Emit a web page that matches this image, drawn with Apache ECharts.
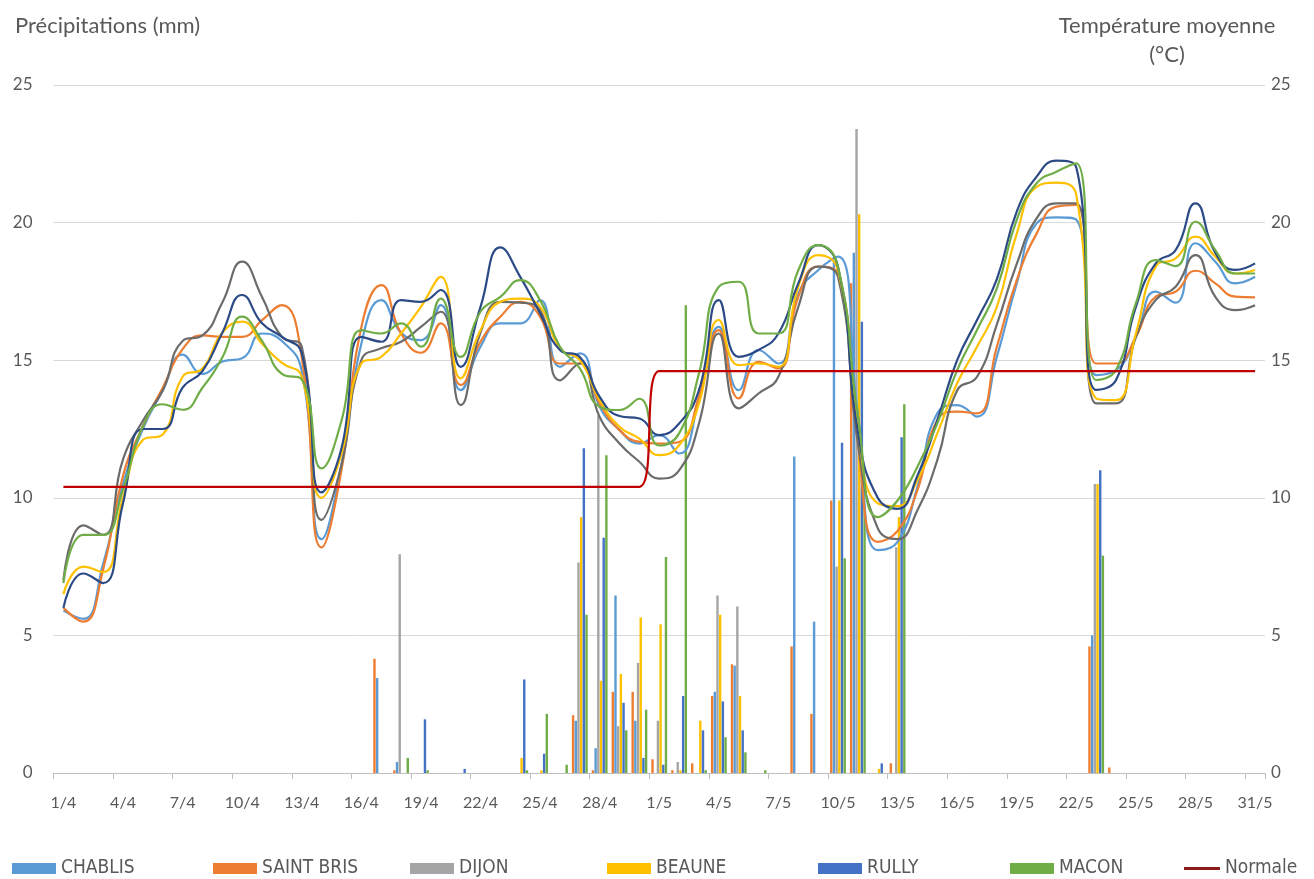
<!DOCTYPE html>
<html>
<head>
<meta charset="utf-8">
<script src="https://cdn.jsdelivr.net/npm/echarts/dist/echarts.min.js"></script>
<style>
html,body{margin:0;padding:0;background:#fff;}
#chart{width:1314px;height:879px;}
</style>
</head>
<body>
<div id="chart"></div>
<script>
const categories = ['1/4','2/4','3/4','4/4','5/4','6/4','7/4','8/4','9/4','10/4',
'11/4','12/4','13/4','14/4','15/4','16/4','17/4','18/4','19/4','20/4',
'21/4','22/4','23/4','24/4','25/4','26/4','27/4','28/4','29/4','30/4',
'1/5','2/5','3/5','4/5','5/5','6/5','7/5','8/5','9/5','10/5',
'11/5','12/5','13/5','14/5','15/5','16/5','17/5','18/5','19/5','20/5',
'21/5','22/5','23/5','24/5','25/5','26/5','27/5','28/5','29/5','30/5','31/5'];

const stations = ['CHABLIS','SAINT BRIS','DIJON','BEAUNE','RULLY','MACON'];

// Précipitations (mm)
const precipChablis = [0,0,0,0,0,0,0,0,0,0,
 0,0,0,0,0,0,3.45,0.4,0,0,
 0,0,0,0,0,0,1.9,0.9,6.45,1.9,
 0,0,0,2.95,3.9,0,0,11.5,5.5,18.6,
 18.9,0,0,0,0,0,0,0,0,0,
 0,0,5.0,0,0,0,0,0,0,0,
 0];
const precipSaintBris = [0,0,0,0,0,0,0,0,0,0,
 0,0,0,0,0,0,4.15,0.1,0,0,
 0,0,0,0,0,0,2.1,0.1,2.95,2.95,
 0.5,0.1,0.35,2.8,3.95,0,0,4.6,2.15,9.9,
 17.8,0,0.35,0,0,0,0,0,0,0,
 0,0,4.6,0.2,0,0,0,0,0,0,
 0];
const precipDijon = [0,0,0,0,0,0,0,0,0,0,
 0,0,0,0,0,0,0,7.95,0,0,
 0,0,0,0,0,0,7.65,13.0,1.7,4.0,
 1.9,0.4,0,6.45,6.05,0,0,0,0,7.5,
 23.4,0,8.2,0,0,0,0,0,0,0,
 0,0,10.5,0,0,0,0,0,0,0,
 0];
const precipBeaune = [0,0,0,0,0,0,0,0,0,0,
 0,0,0,0,0,0,0,0,0,0,
 0,0,0,0.55,0.1,0,9.3,3.35,3.6,5.65,
 5.4,0.1,1.9,5.75,2.8,0,0,0,0,9.9,
 20.3,0.15,9.3,0,0,0,0,0,0,0,
 0,0,10.5,0,0,0,0,0,0,0,
 0];
const precipRully = [0,0,0,0,0,0,0,0,0,0,
 0,0,0,0,0,0,0,0,1.95,0,
 0.15,0,0,3.4,0.7,0,11.8,8.55,2.55,0.55,
 0.3,2.8,1.55,2.6,1.55,0,0,0,0,12.0,
 16.4,0.35,12.2,0,0,0,0,0,0,0,
 0,0,11.0,0,0,0,0,0,0,0,
 0];
const precipMacon = [0,0,0,0,0,0,0,0,0,0,
 0,0,0,0,0,0,0,0.55,0.1,0,
 0,0,0,0.1,2.15,0.3,5.75,11.55,1.55,2.3,
 7.85,17.0,0.1,1.3,0.75,0.1,0,0,0,7.8,
 9.7,0,13.4,0,0,0,0,0,0,0,
 0,0,7.9,0,0,0,0,0,0,0,
 0];

// Température moyenne (°C)
const tempChablis = [5.9,5.6,7.6,10.5,12.5,13.9,15.2,14.5,14.95,15.07,
 15.97,15.7,14.6,8.5,11.2,15.6,17.18,16.0,15.73,17.0,
 13.91,15.49,16.34,16.34,17.18,14.76,15.25,13.31,12.46,11.97,
 12.28,11.61,13.55,16.21,13.91,15.37,14.88,17.42,18.27,18.76,
 13.0,8.1,8.4,10.4,13.07,13.37,12.95,15.13,17.79,19.97,
 20.19,20.1,14.46,14.64,15.85,17.49,17.09,19.25,18.58,17.79,18.03];
const tempSaintBris = [6.0,5.5,7.4,10.8,12.6,14.0,15.4,15.9,15.85,15.85,
 16.46,17.0,15.1,8.2,11.0,16.2,17.73,15.97,15.27,16.34,
 14.1,15.67,16.58,17.12,16.58,14.88,14.88,13.43,12.46,12.03,
 11.97,12.03,13.67,16.09,13.61,14.94,14.7,17.3,18.4,18.15,
 12.0,8.4,8.8,10.28,12.82,13.13,13.07,15.49,17.91,19.6,
 20.58,20.64,14.88,14.88,15.85,17.31,17.49,18.25,17.79,17.31,17.28];
const tempDijon = [7.0,9.0,8.65,11.4,12.8,13.9,15.7,15.9,17.1,18.58,
 17.3,15.85,15.5,9.2,11.2,15.0,15.43,15.67,16.21,16.76,
 13.37,16.0,17.12,17.09,16.82,14.27,14.88,12.94,11.97,11.31,
 10.7,11.0,12.7,15.97,13.25,13.79,14.4,16.94,18.4,18.03,
 12.0,8.9,8.5,9.55,11.37,13.9,14.4,16.3,18.5,20.15,
 20.7,20.7,13.43,13.43,15.85,17.19,17.67,18.82,17.3,16.82,17.0];
const tempBeaune = [6.5,7.5,7.3,10.0,12.1,12.3,14.4,14.7,16.0,16.4,
 15.6,14.9,14.4,10.0,11.6,14.88,15.12,15.97,16.94,18.03,
 14.34,16.09,17.12,17.24,16.94,15.43,15.0,13.55,12.58,12.15,
 11.55,11.91,13.43,16.46,14.82,14.88,14.76,17.67,18.82,18.27,
 12.5,9.8,9.7,10.64,12.34,14.16,15.49,16.94,19.6,21.3,
 21.45,21.0,13.61,13.55,15.97,18.4,18.7,19.49,18.76,18.15,18.28];
const tempRully = [6.0,7.25,6.9,9.8,12.5,12.5,14.0,14.6,16.0,17.37,
 16.34,15.85,15.25,10.2,11.8,15.85,15.67,17.18,17.12,17.55,
 14.76,16.94,19.1,18.03,16.7,15.37,15.12,13.67,12.97,12.88,
 12.28,12.7,13.91,17.18,15.12,15.37,15.97,17.79,19.18,18.4,
 12.4,10.0,9.6,10.8,12.82,15.0,16.46,17.95,20.4,21.67,
 22.25,22.0,13.92,14.28,16.94,18.52,19.0,20.7,18.9,18.28,18.52];
const tempMacon = [6.9,8.65,8.65,10.3,12.6,13.4,13.2,14.0,15.1,16.58,
 15.7,14.5,14.3,11.07,12.8,16.09,15.97,16.34,15.49,17.24,
 15.12,16.76,17.3,17.91,17.18,15.49,14.7,13.31,13.19,13.6,
 11.9,12.34,14.52,17.67,17.85,15.97,15.97,18.27,19.18,18.4,
 13.0,9.3,9.9,11.13,12.7,14.64,16.1,17.61,20.1,21.43,
 21.85,22.15,14.28,14.64,17.07,18.64,18.42,20.03,19.0,18.15,18.15];
const tempNormale = [10.4,10.4,10.4,10.4,10.4,10.4,10.4,10.4,10.4,10.4,
 10.4,10.4,10.4,10.4,10.4,10.4,10.4,10.4,10.4,10.4,
 10.4,10.4,10.4,10.4,10.4,10.4,10.4,10.4,10.4,10.4,
 14.6,14.6,14.6,14.6,14.6,14.6,14.6,14.6,14.6,14.6,
 14.6,14.6,14.6,14.6,14.6,14.6,14.6,14.6,14.6,14.6,
 14.6,14.6,14.6,14.6,14.6,14.6,14.6,14.6,14.6,14.6,14.6];

const yTicks = [0,5,10,15,20,25];

const barColors = {'CHABLIS':'#5B9BD5','SAINT BRIS':'#ED7D31','DIJON':'#A5A5A5','BEAUNE':'#FFC000','RULLY':'#4472C4','MACON':'#70AD47'};
const lineColors = {'CHABLIS':'#5B9BD5','SAINT BRIS':'#ED7D31','DIJON':'#6B6B6B','BEAUNE':'#FFC000','RULLY':'#2B4A86','MACON':'#70AD47'};
const precip = {'CHABLIS':precipChablis,'SAINT BRIS':precipSaintBris,'DIJON':precipDijon,'BEAUNE':precipBeaune,'RULLY':precipRully,'MACON':precipMacon};
const temp = {'CHABLIS':tempChablis,'SAINT BRIS':tempSaintBris,'DIJON':tempDijon,'BEAUNE':tempBeaune,'RULLY':tempRully,'MACON':tempMacon};

// bar drawing order as seen in the picture
const barOrder = ['SAINT BRIS','CHABLIS','DIJON','BEAUNE','RULLY','MACON'];

const txt = '#595959';
const font = 'Lato';

const series = [];
barOrder.forEach(n => {
  series.push({name:n, type:'bar', yAxisIndex:0, data:precip[n], barWidth:2.4, barGap:'12%',
    itemStyle:{color:barColors[n]}, animation:false});
});
stations.forEach(n => {
  series.push({name:n, type:'line', yAxisIndex:1, data:temp[n], smooth:true, symbol:'none',
    lineStyle:{color:lineColors[n], width:2.2}, itemStyle:{color:barColors[n]}, animation:false, z:3});
});
series.push({name:'Normale', type:'line', yAxisIndex:1, data:tempNormale, smooth:true, symbol:'none',
  lineStyle:{color:'#C00000', width:2.2}, itemStyle:{color:'#8B1A1A'}, animation:false, z:4});

const legendPos = [['CHABLIS',12],['SAINT BRIS',213],['DIJON',410],['BEAUNE',607],['RULLY',818],['MACON',1010],['Normale',1184]];
const legends = legendPos.map(([n,x]) => ({
  left:x, top:859, padding:0, data:[n], icon:'rect', selectedMode:false,
  itemWidth: n==='Normale'?36:44, itemHeight: n==='Normale'?3:11,
  textStyle:{color:txt, fontSize:19, fontFamily:"'Liberation Sans Narrow','DejaVu Sans Condensed',sans-serif"}
}));

const chart = echarts.init(document.getElementById('chart'), null, {renderer:'canvas'});
chart.setOption({
  backgroundColor:'#fff',
  animation:false,
  grid:{left:53.5, right:49, top:85, bottom:106},
  legend: legends,
  xAxis:{type:'category', data:categories, boundaryGap:true,
    axisLine:{lineStyle:{color:'#BFBFBF', width:1}},
    axisTick:{show:true, interval:2, length:6, lineStyle:{color:'#BFBFBF'}},
    axisLabel:{interval:2, color:txt, fontSize:16, fontFamily:font, margin:22}},
  yAxis:[
    {type:'value', min:yTicks[0], max:yTicks[yTicks.length-1], interval:5, position:'left',
     axisLine:{show:false}, axisTick:{show:false},
     splitLine:{lineStyle:{color:'#D9D9D9'}},
     axisLabel:{color:txt, fontSize:17, fontFamily:font, margin:21}},
    {type:'value', min:yTicks[0], max:yTicks[yTicks.length-1], interval:5, position:'right',
     axisLine:{show:false}, axisTick:{show:false}, splitLine:{show:false},
     axisLabel:{color:txt, fontSize:17, fontFamily:font, margin:6}}
  ],
  graphic:[
    {type:'text', left:15, top:15, style:{text:'Précipitations (mm)', fill:txt, font:"22px Lato"}},
    {type:'text', x:1167, y:15, style:{text:'Température moyenne', fill:txt, font:"22px Lato", textAlign:'center'}},
    {type:'text', x:1167, y:44, style:{text:'(°C)', fill:txt, font:"22px Lato", textAlign:'center'}}
  ],
  series:series
});
</script>
</body>
</html>
